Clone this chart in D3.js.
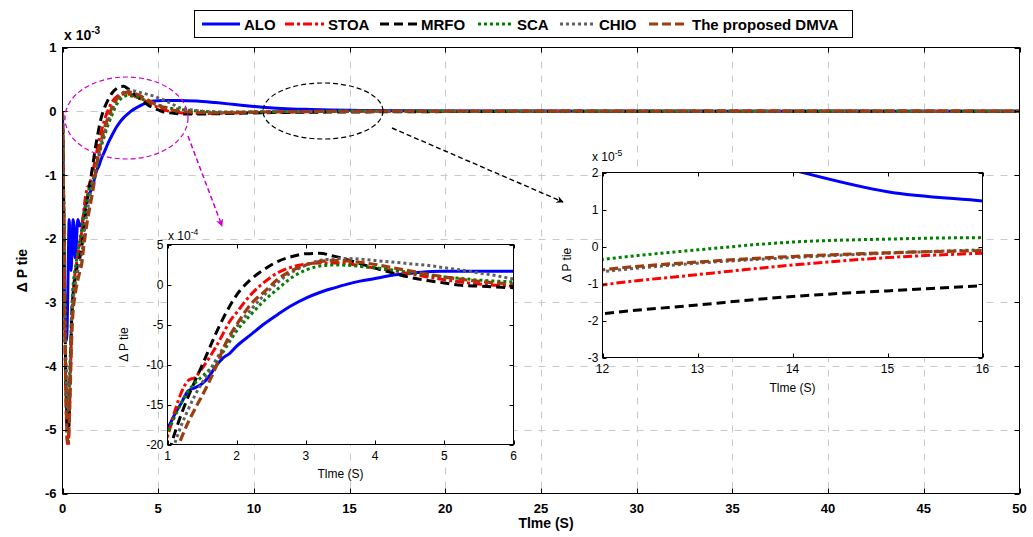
<!DOCTYPE html>
<html><head><meta charset="utf-8">
<script src="https://cdn.jsdelivr.net/npm/d3@7"></script>
<style>body{margin:0;background:#fff;} svg{display:block;font-family:"Liberation Sans",Arial,sans-serif;}</style>
</head><body><svg id="c" width="1033" height="537"></svg>
<script>
// time in seconds
const time = [0,0.05,0.1,0.15,0.2,0.25,0.3,0.35,0.4,0.45,0.5,0.55,0.6,0.65,0.7,0.8,0.9,1.0,
  1.1,1.2,1.3,1.4,1.5,1.6,1.7,1.8,1.9,2.0,2.2,2.4,2.6,2.8,3.0,3.2,3.4,3.6,3.8,4.0,
  4.25,4.5,4.75,5.0,5.25,5.5,5.75,6.0,7,8,9,10,11,12,13,14,15,16,18,20,25,30,40,50];
// ΔPtie values in units of 1e-4
const ALO  = [0,-14,-28,-34,-36,-33,-24,-17,-22,-25,-21,-17,-18,-23,-22,-17,-18,-17.8,
  -16.3,-14.8,-13.3,-12.9,-12.4,-11.5,-10.2,-9.2,-8.6,-7.7,-6.3,-4.9,-3.7,-2.6,-1.7,-1.0,-0.45,0.05,0.45,0.75,
  1.15,1.4,1.6,1.65,1.67,1.67,1.67,1.67,1.6,1.35,1.05,0.75,0.5,0.36,0.28,0.207,0.148,0.123,0.08,0.05,0.02,0.01,0.002,0];
const STOA = [0,-13,-28,-40,-48,-52,-52.5,-49,-43,-37,-32,-29,-27,-25.5,-24.5,-22.5,-20.8,-19,
  -16,-13.5,-12.0,-11.6,-10.5,-9.2,-7.8,-6.2,-4.6,-3.5,-1.3,0.3,1.5,2.2,2.55,2.7,2.7,2.6,2.3,2.05,
  1.75,1.35,0.95,0.6,0.3,0.05,-0.1,-0.2,-0.35,-0.33,-0.27,-0.2,-0.15,-0.104,-0.076,-0.05,-0.03,-0.018,-0.008,-0.004,-0.001,0,0,0];
const MRFO = [0,-11,-25,-37,-45,-49,-50,-47,-41,-35,-31,-29,-27.5,-26.5,-25.5,-24,-23,-21.5,
  -18.7,-16.2,-14.0,-12.0,-10.1,-8.1,-6.1,-4.3,-2.7,-1.3,0.6,1.9,2.9,3.5,3.85,3.9,3.55,3.1,2.55,2.05,
  1.45,0.9,0.5,0.2,-0.1,-0.2,-0.3,-0.4,-0.45,-0.4,-0.33,-0.27,-0.22,-0.182,-0.158,-0.135,-0.12,-0.106,-0.08,-0.06,-0.03,-0.015,-0.004,0];
const SCA  = [0,-12,-26,-37,-44,-47,-47,-44,-39,-34,-30,-27.5,-26,-25,-24,-22,-20.3,-18.6,
  -16.6,-14.8,-13.3,-12.3,-11.5,-10.7,-9.9,-8.5,-7.1,-5.8,-3.8,-2.0,-0.5,0.9,1.8,2.3,2.45,2.4,2.25,2.1,
  1.8,1.5,1.2,0.95,0.75,0.55,0.42,0.33,0.05,-0.1,-0.12,-0.1,-0.07,-0.035,-0.009,0.012,0.02,0.024,0.02,0.015,0.008,0.004,0.001,0];
const CHIO = [0,-11,-24,-35,-42,-46,-47,-45,-41,-36,-32,-30,-28.5,-27.5,-26.5,-25,-23.8,-22.5,
  -20,-17.6,-15.6,-13.8,-12.3,-10.9,-9.4,-8.0,-6.7,-5.3,-3.2,-1.3,0.3,1.55,2.4,3.0,3.2,3.25,3.15,3.0,
  2.8,2.6,2.4,2.1,1.8,1.45,1.1,0.7,0.1,-0.15,-0.18,-0.14,-0.1,-0.068,-0.045,-0.03,-0.018,-0.009,0,0.002,0.001,0,0,0];
const DMVA = [0,-12,-27,-39,-47,-51.5,-52,-49,-44,-38.5,-34,-31.5,-30,-29,-28,-26.5,-25.2,-24,
  -21.5,-19.2,-17.2,-15.5,-13.9,-12.2,-10.3,-8.1,-6.4,-5.0,-2.5,-0.9,0.7,1.75,2.45,2.85,3.0,2.95,2.75,2.5,
  2.1,1.7,1.3,0.95,0.65,0.4,0.2,0.05,-0.2,-0.25,-0.2,-0.14,-0.1,-0.063,-0.042,-0.027,-0.017,-0.011,-0.006,-0.003,-0.001,0,0,0];

const seriesNames = ["ALO","STOA","MRFO","SCA","CHIO","The proposed DMVA"];
const seriesValues = [ALO, STOA, MRFO, SCA, CHIO, DMVA];

const mainXTicks = [0,5,10,15,20,25,30,35,40,45,50];
const mainYTicks = [-6,-5,-4,-3,-2,-1,0,1];
const in1XTicks = [1,2,3,4,5,6];
const in1YTicks = [-20,-15,-10,-5,0,5];
const in2XTicks = [12,13,14,15,16];
const in2YTicks = [-3,-2,-1,0,1,2];

// styles
const styles = [
  {color:"#0000ff", dash:null, w:3},
  {color:"#ff0000", dash:"9,3,3,3", w:3},
  {color:"#000000", dash:"9,5", w:3},
  {color:"#008000", dash:"3,3", w:3},
  {color:"#606060", dash:"3,3", w:3},
  {color:"#9c3d10", dash:"9,4", w:3.2}
];

const svg = d3.select("#c");

function makeSeries(scaleFactor) {
  return seriesValues.map(vals => time.map((t,i)=>({t, v: vals[i]*scaleFactor})));
}

function drawPanel(g, xs, ys, xticks, yticks, o) {
  const [L,R] = xs.range(); const [B,T] = ys.range();
  g.append("rect").attr("x",L).attr("y",T).attr("width",R-L).attr("height",B-T).attr("fill","#fff");
  if (o.grid) {
    xticks.filter(t=>t!==xs.domain()[0]&&t!==xs.domain()[1]).forEach(t=>{
      g.append("line").attr("x1",Math.round(xs(t))+0.5).attr("x2",Math.round(xs(t))+0.5).attr("y1",T).attr("y2",B)
        .attr("stroke","#c8c8c8").attr("stroke-width",1).attr("stroke-dasharray","7,7");
    });
    yticks.filter(t=>t!==ys.domain()[0]&&t!==ys.domain()[1]).forEach(t=>{
      g.append("line").attr("y1",Math.round(ys(t))+0.5).attr("y2",Math.round(ys(t))+0.5).attr("x1",L).attr("x2",R)
        .attr("stroke","#c8c8c8").attr("stroke-width",1).attr("stroke-dasharray","7,7");
    });
  }
  const clipId = "clip"+o.id;
  g.append("clipPath").attr("id",clipId).append("rect").attr("x",L).attr("y",T).attr("width",R-L).attr("height",B-T);
  const data = makeSeries(o.factor);
  const line = d3.line().x(d=>xs(d.t)).y(d=>ys(d.v)).curve(d3.curveMonotoneX);
  const lg = g.append("g").attr("clip-path",`url(#${clipId})`);
  data.forEach((s,i)=>{
    const st = styles[i];
    lg.append("path").attr("d",line(s)).attr("fill","none").attr("stroke",st.color)
      .attr("stroke-width",st.w).attr("stroke-dasharray",st.dash).attr("stroke-linejoin","round");
  });
  g.append("rect").attr("x",L).attr("y",T).attr("width",R-L).attr("height",B-T)
    .attr("fill","none").attr("stroke","#000").attr("stroke-width",1);
  const tl = o.tl;
  xticks.forEach(t=>{
    const X = Math.round(xs(t))+0.5;
    g.append("line").attr("x1",X).attr("x2",X).attr("y1",B).attr("y2",B-tl).attr("stroke","#000");
    g.append("line").attr("x1",X).attr("x2",X).attr("y1",T).attr("y2",T+tl).attr("stroke","#000");
    g.append("text").attr("x",xs(t)).attr("y",B+o.xpad).attr("text-anchor","middle")
      .attr("font-size",o.fs).attr("font-weight",o.fw).text(t);
  });
  yticks.forEach(t=>{
    const Y = Math.round(ys(t))+0.5;
    g.append("line").attr("y1",Y).attr("y2",Y).attr("x1",L).attr("x2",L+tl).attr("stroke","#000");
    g.append("line").attr("y1",Y).attr("y2",Y).attr("x1",R).attr("x2",R-tl).attr("stroke","#000");
    g.append("text").attr("x",L-o.ypad).attr("y",ys(t)+o.fs*0.36).attr("text-anchor","end")
      .attr("font-size",o.fs).attr("font-weight",o.fw).text(t);
  });
  g.append("text").attr("x",(L+R)/2+o.xlDx).attr("y",o.xlY).attr("text-anchor","middle")
    .attr("font-size",o.lfs).attr("font-weight",o.fw).text("Tlme (S)");
  g.append("text").attr("transform",`translate(${o.ylX},${(T+B)/2+o.ylDy}) rotate(-90)`).attr("text-anchor","middle")
    .attr("font-size",o.lfs).attr("font-weight",o.fw).text("\u0394 P tie");
  const ex = g.append("text").attr("x",o.exX).attr("y",o.exY).attr("font-size",o.efs).attr("font-weight",o.fw);
  ex.append("tspan").text("x 10");
  ex.append("tspan").attr("dy",-o.efs*0.45).attr("font-size",o.efs*0.72).text(o.exp);
}

// main panel
const xM = d3.scaleLinear([0,50],[62.5,1019.5]);
const yM = d3.scaleLinear([-6,1],[493.5,47.5]);
drawPanel(svg.append("g"), xM, yM, mainXTicks, mainYTicks,
  {id:"m", factor:0.1, grid:true, tl:5, fs:13, fw:"bold", xpad:19, ypad:6, lfs:14, xlY:528, xlDx:5,
   ylX:27, ylDy:0, exX:64, exY:40, efs:14, exp:"-3"});

// annotations: ellipses and arrows
const defs = svg.append("defs");
defs.append("marker").attr("id","ahM").attr("viewBox","0 0 10 10").attr("refX",9).attr("refY",5)
  .attr("markerWidth",5).attr("markerHeight",5).attr("orient","auto")
  .append("path").attr("d","M0,0 L10,5 L0,10 L3,5 Z").attr("fill","#cc00cc");
defs.append("marker").attr("id","ahK").attr("viewBox","0 0 10 10").attr("refX",9).attr("refY",5)
  .attr("markerWidth",5).attr("markerHeight",5).attr("orient","auto")
  .append("path").attr("d","M0,0 L10,5 L0,10 L3,5 Z").attr("fill","#000");

svg.append("ellipse").attr("cx",126.5).attr("cy",118).attr("rx",61.5).attr("ry",41)
  .attr("fill","none").attr("stroke","#cc00cc").attr("stroke-width",1.2).attr("stroke-dasharray","5,3");
svg.append("line").attr("x1",188).attr("y1",136).attr("x2",222).attr("y2",226)
  .attr("stroke","#cc00cc").attr("stroke-width",1.5).attr("stroke-dasharray","5,3").attr("marker-end","url(#ahM)");
svg.append("ellipse").attr("cx",323).attr("cy",111).attr("rx",60).attr("ry",28)
  .attr("fill","none").attr("stroke","#000").attr("stroke-width",1.2).attr("stroke-dasharray","5,3");
svg.append("line").attr("x1",392).attr("y1",128).attr("x2",563).attr("y2",202)
  .attr("stroke","#000").attr("stroke-width",1.4).attr("stroke-dasharray","5,3").attr("marker-end","url(#ahK)");

// inset 1
const x1 = d3.scaleLinear([1,6],[167.5,513.5]);
const y1 = d3.scaleLinear([-20,5],[444.5,244.5]);
drawPanel(svg.append("g"), x1, y1, in1XTicks, in1YTicks,
  {id:"i1", factor:1, grid:false, tl:4, fs:12, fw:"normal", xpad:15, ypad:4, lfs:12, xlY:478, xlDx:0,
   ylX:128, ylDy:0, exX:168, exY:240, efs:12, exp:"-4"});

// inset 2
const x2 = d3.scaleLinear([12,16],[602.5,982.5]);
const y2 = d3.scaleLinear([-3,2],[357.5,172.5]);
drawPanel(svg.append("g"), x2, y2, in2XTicks, in2YTicks,
  {id:"i2", factor:10, grid:false, tl:4, fs:12, fw:"normal", xpad:15, ypad:4, lfs:12, xlY:392, xlDx:0,
   ylX:571, ylDy:0, exX:592, exY:161, efs:12, exp:"-5"});

// legend
const lg = svg.append("g");
lg.append("rect").attr("x",194.5).attr("y",10.5).attr("width",658).attr("height",27).attr("fill","#fff").attr("stroke","#000");
const legendPos = [[202,244],[285,328],[380,421],[478,517],[560,599],[649,692]];
seriesNames.forEach((n,i)=>{
  const st = styles[i]; const [lx,tx] = legendPos[i];
  lg.append("line").attr("x1",lx).attr("x2",tx-4).attr("y1",24).attr("y2",24).attr("stroke",st.color)
    .attr("stroke-width",st.w).attr("stroke-dasharray",st.dash);
  lg.append("text").attr("x",tx).attr("y",29.5).attr("font-size",15).attr("font-weight","bold").text(n);
});
</script></body></html>
